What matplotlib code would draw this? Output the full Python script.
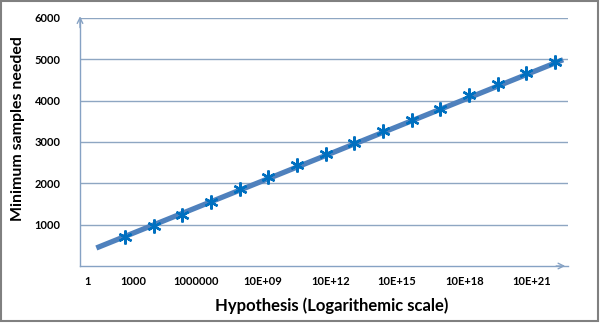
import numpy as np
import matplotlib
matplotlib.use('Agg')
import matplotlib.pyplot as plt
from matplotlib.patches import Rectangle

# ### data
point_pos = np.arange(1, 17)  # category slots along the x axis
samples = [710, 970, 1235, 1555, 1855, 2160, 2445, 2710,
           2985, 3275, 3530, 3800, 4135, 4395, 4660, 4930]
trend_pos = [0.0, 16.28]
trend_samples = [436, 4990]

tick_pos = [-0.30, 1.28, 3.48, 5.81, 8.19, 10.49, 12.83, 15.20]
tick_labels = ['1', '1000', '1000000', '10E+09', '10E+12', '10E+15', '10E+18', '10E+21']
y_ticks = [1000, 2000, 3000, 4000, 5000, 6000]

# ### styles
line_color = '#4F81BD'
star_color = '#0070C0'
axis_color = '#86A2C4'
grid_color = '#8EA6C2'

plt.rcParams['font.family'] = ['Lato', 'DejaVu Sans']

fig = plt.figure(figsize=(6.0, 3.23), dpi=100)
ax = fig.add_axes([80/600, 57/323, 488/600, 248/323])

ax.plot(trend_pos, trend_samples, color=line_color, linewidth=3.8,
        solid_capstyle='butt', zorder=3)
ax.plot(point_pos, samples, linestyle='none', marker=(6, 2, 0), markersize=10,
        markeredgewidth=1.7, color=star_color, zorder=4)

ax.set_xlim(-0.57, 16.45)
ax.set_ylim(0, 6000)
ax.set_yticks(y_ticks)
ax.set_yticklabels([str(v) for v in y_ticks], fontsize=8, fontweight='bold')
ax.set_xticks(tick_pos)
ax.set_xticklabels(tick_labels, fontsize=8, fontweight='bold')
ax.tick_params(axis='both', length=0)
ax.tick_params(axis='y', pad=14)
ax.tick_params(axis='x', pad=7)

ax.grid(axis='y', color=grid_color, linewidth=1.0)
ax.set_axisbelow(True)
for side in ('top', 'right'):
    ax.spines[side].set_visible(False)
for side in ('left', 'bottom'):
    ax.spines[side].set_color(axis_color)
    ax.spines[side].set_linewidth(1.0)

# open arrow heads on both axes
ax.annotate('', xy=(0, 1.018), xytext=(0, 0.95), xycoords='axes fraction',
            arrowprops=dict(arrowstyle='->', color=axis_color, lw=1.0,
                            mutation_scale=10), annotation_clip=False)
ax.annotate('', xy=(1.0, 0), xytext=(0.97, 0), xycoords='axes fraction',
            arrowprops=dict(arrowstyle='->', color=axis_color, lw=1.0,
                            mutation_scale=10), annotation_clip=False)

ax.set_ylabel('Minimum samples needed', fontsize=11.4, fontweight='bold')
ax.set_xlabel('Hypothesis (Logarithemic scale)', fontsize=12, fontweight='bold')
ax.yaxis.set_label_coords(-0.112, 0.556)
ax.xaxis.set_label_coords(0.516, -0.125)

fig.patches.append(Rectangle((0.5/600, 2/323), 597/600, 320/323, transform=fig.transFigure,
                             fill=False, edgecolor='#808080', linewidth=1.5))

fig.savefig('out.png', dpi=100)
